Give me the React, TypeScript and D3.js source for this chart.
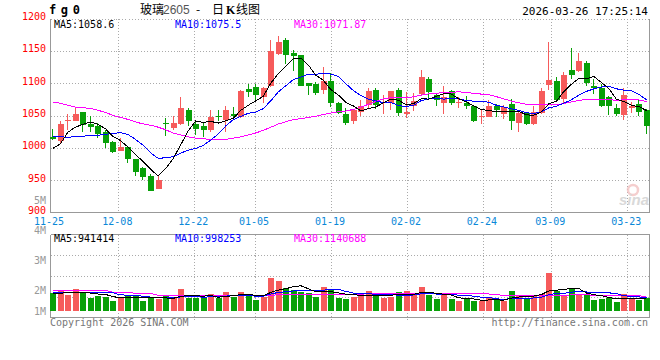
import { useRef, useEffect } from "react";
import * as d3 from "d3";

// daily bars, 2025-11-25 .. 2026-03-26 (80 trading days)
const opens = [1017, 1010, 1042, 1042, 1055, 1037, 1034, 1025, 1009, 995, 1001, 982, 969, 957, 937, 1039, 1031, 1037, 1059, 1037, 1033, 1028, 1049, 1043, 1052, 1047, 1091, 1094, 1079, 1095, 1145, 1166, 1146, 1143, 1100, 1098, 1089, 1103, 1070, 1053, 1041, 1056, 1066, 1090, 1069, 1070, 1090, 1053, 1064, 1084, 1107, 1082, 1070, 1088, 1070, 1070, 1065, 1048, 1048, 1065, 1053, 1068, 1038, 1054, 1037, 1054, 1097, 1103, 1076, 1120, 1119, 1131, 1095, 1092, 1079, 1061, 1051, 1061, 1068, 1059];
const highs = [1029, 1042, 1052, 1063, 1056, 1049, 1038, 1027, 1010, 1015, 1003, 983, 970, 959, 956, 1046, 1049, 1079, 1061, 1043, 1040, 1059, 1059, 1065, 1063, 1090, 1098, 1098, 1094, 1166, 1173, 1170, 1152, 1144, 1100, 1102, 1125, 1115, 1071, 1061, 1060, 1074, 1092, 1092, 1082, 1088, 1092, 1087, 1085, 1120, 1109, 1083, 1095, 1090, 1079, 1080, 1066, 1060, 1074, 1068, 1066, 1075, 1056, 1056, 1064, 1093, 1163, 1110, 1117, 1155, 1146, 1134, 1106, 1099, 1080, 1068, 1093, 1071, 1074, 1060];
const lows = [1012, 1006, 1028, 1041, 1025, 1024, 1015, 1000, 992, 995, 977, 956, 950, 933, 936, 1018, 1028, 1035, 1033, 1020, 1017, 1025, 1041, 1025, 1046, 1046, 1079, 1074, 1069, 1094, 1143, 1129, 1119, 1096, 1081, 1081, 1083, 1063, 1053, 1035, 1037, 1049, 1060, 1060, 1053, 1059, 1049, 1046, 1057, 1082, 1077, 1064, 1053, 1066, 1061, 1060, 1040, 1037, 1047, 1047, 1044, 1027, 1025, 1036, 1036, 1052, 1089, 1071, 1070, 1107, 1117, 1095, 1083, 1063, 1051, 1049, 1043, 1054, 1049, 1022];
const closes = [1014, 1037, 1043, 1052, 1035, 1032, 1021, 1008, 993, 1002, 983, 962, 955, 933, 950, 1038, 1039, 1061, 1041, 1029, 1027, 1047, 1047, 1058, 1049, 1088, 1087, 1081, 1093, 1150, 1163, 1143, 1142, 1096, 1096, 1085, 1103, 1070, 1054, 1038, 1059, 1065, 1088, 1066, 1071, 1088, 1054, 1056, 1072, 1109, 1086, 1074, 1078, 1070, 1071, 1064, 1041, 1049, 1065, 1059, 1063, 1042, 1054, 1037, 1056, 1088, 1105, 1074, 1112, 1112, 1135, 1100, 1093, 1065, 1065, 1052, 1082, 1064, 1056, 1034];
const volumes = [1338000, 1515000, 1212000, 1667000, 1389000, 1010000, 1162000, 1086000, 758000, 1086000, 1136000, 1212000, 758000, 960000, 884000, 1136000, 1010000, 1667000, 1010000, 960000, 960000, 1288000, 960000, 1439000, 1086000, 1439000, 1212000, 833000, 1086000, 2500000, 2273000, 1742000, 1591000, 1465000, 1364000, 1086000, 1818000, 1591000, 985000, 909000, 1061000, 1212000, 1515000, 1162000, 1010000, 1086000, 1439000, 1515000, 1212000, 1818000, 1212000, 909000, 1212000, 909000, 758000, 909000, 758000, 758000, 985000, 833000, 758000, 1515000, 1212000, 1010000, 1162000, 1313000, 2904000, 1515000, 1212000, 1667000, 1212000, 1212000, 833000, 909000, 985000, 707000, 1313000, 1010000, 833000, 960000];

// averages before enough days are on screen
const priceMa5Head = [999, 1006, 1024, 1032];
const priceMa10Head = [1017.5, 1017, 1016.5, 1017, 1018, 1019, 1019.5, 1021, 1022];
const priceMa30Head = [1071, 1069, 1066, 1063, 1062, 1061, 1058, 1055, 1050, 1047, 1044, 1040, 1037, 1035, 1032, 1028, 1023, 1020, 1017, 1015, 1014, 1013, 1013, 1013, 1015, 1017, 1020, 1023, 1027];
const volMa5Head = [1340000, 1360000, 1370000, 1390000];
const volMa10Head = [1410000, 1410000, 1410000, 1420000, 1420000, 1420000, 1410000, 1400000, 1380000];
const volMa30Head = [1560000, 1560000, 1560000, 1560000, 1560000, 1560000, 1560000, 1560000, 1410000, 1410000, 1410000, 1340000, 1340000, 1340000, 1190000, 1190000, 1190000, 1190000, 1190000, 1160000, 1160000, 1160000, 1160000, 1160000, 1160000, 1160000, 1160000, 1160000, 1160000];

const tickLabels = ["11-25", "12-08", "12-22", "01-05", "01-19", "02-02", "02-24", "03-09", "03-23"];
const tickIndex = [0, 9, 19, 27, 37, 47, 57, 66, 76];
const priceTicks = [1200, 1150, 1100, 1050, 1000, 950, 900];
const volTicks = [5e6, 4e6, 3e6, 2e6, 1e6];
const volTickLabels = ["5M", "4M", "3M", "2M", "1M"];
const priceMaText = ["MA5:1058.6", "MA10:1075.5", "MA30:1071.87"];
const volMaText = ["MA5:941414", "MA10:998253", "MA30:1140688"];
const maColors = ["#000000", "#0000ff", "#ff00ff"];

const UP = "#f65b5b";
const DOWN = "#08a008";
const GRID = "#aaaaaa";
const FRAME = "#999999";
const MONO = "'DejaVu Sans Mono', monospace";

function movingAvg(values: number[], n: number, head: number[]) {
  return values.map((_, i) => (i < n - 1 ? head[i] : (d3.mean(values.slice(i - n + 1, i + 1)) as number)));
}

export default function App() {
  const svgRef = useRef<SVGSVGElement>(null);

  useEffect(() => {
    if (!svgRef.current) return;
    document.body.style.margin = "0";

    const svg = d3.select(svgRef.current);
    svg.selectAll("*").remove();

    const width = 660;
    const height = 360;
    const left = 50.5;
    const right = 649.5;
    const priceTop = 18.5;
    const priceBottom = 212.5;
    const volTop = 234.5;
    const volBottom = 317.5;

    svg.attr("width", width).attr("height", height);
    svg.append("rect").attr("width", width).attr("height", height).attr("fill", "#fff");

    const n = closes.length;
    const xCandle = d3.scaleLinear().domain([0, n - 1]).range([52.3, 646]);
    const xTick = d3.scaleLinear().domain([0, n - 1]).range([50, 650]);
    const yPrice = d3.scaleLinear().domain([900, 1200]).range([priceBottom, priceTop]);
    const yVol = d3.scaleLinear().domain([0, 1e6]).range([311, 297.8]);
    const yVolLabel = d3.scaleLinear().domain([0, 5e6]).range([350.7, 200.7]);

    const snap = (v: number) => Math.round(v) + 0.5;

    // grid
    const grid = svg.append("g").attr("stroke", GRID).attr("stroke-dasharray", "1,2").attr("shape-rendering", "crispEdges");
    priceTicks.slice(0, -1).forEach((p) => {
      grid.append("line").attr("x1", left).attr("x2", right).attr("y1", snap(yPrice(p))).attr("y2", snap(yPrice(p)));
    });
    [1, 2, 3].forEach((k) => {
      const y = snap(volTop + ((volBottom - volTop) * k) / 4);
      grid.append("line").attr("x1", left).attr("x2", right).attr("y1", y).attr("y2", y);
    });
    tickIndex.slice(1).forEach((idx) => {
      const x = snap(xTick(idx));
      grid.append("line").attr("x1", x).attr("x2", x).attr("y1", priceTop).attr("y2", priceBottom);
      grid.append("line").attr("x1", x).attr("x2", x).attr("y1", volTop).attr("y2", 321);
    });

    // frames
    const frame = svg.append("g").attr("stroke", FRAME).attr("shape-rendering", "crispEdges");
    frame.append("line").attr("x1", left).attr("x2", left).attr("y1", priceTop).attr("y2", priceBottom);
    frame.append("line").attr("x1", right).attr("x2", right).attr("y1", priceTop).attr("y2", priceBottom);
    frame.append("line").attr("x1", left).attr("x2", right).attr("y1", priceBottom).attr("y2", priceBottom).attr("stroke-width", 1.5);
    frame.append("line").attr("x1", left).attr("x2", left).attr("y1", volTop).attr("y2", volBottom);
    frame.append("line").attr("x1", right).attr("x2", right).attr("y1", volTop).attr("y2", volBottom);
    frame.append("line").attr("x1", left).attr("x2", right).attr("y1", volTop).attr("y2", volTop);
    frame.append("line").attr("x1", left).attr("x2", right).attr("y1", volBottom).attr("y2", volBottom).attr("stroke-width", 1.5);

    // sina watermark
    const logo = svg.append("g").attr("opacity", 0.8);
    logo.append("circle").attr("cx", 633).attr("cy", 190).attr("r", 5).attr("fill", "none").attr("stroke", "#f3c3c3").attr("stroke-width", 2.5);
    logo.append("text").attr("x", 619).attr("y", 205).attr("font-family", "'Liberation Sans', sans-serif")
      .attr("font-size", 15).attr("font-style", "italic").attr("font-weight", "bold").attr("fill", "#d0d0d0").text("sina");

    // candles
    const candles = svg.append("g").attr("shape-rendering", "crispEdges");
    closes.forEach((c, i) => {
      const o = opens[i];
      const color = c >= o ? UP : DOWN;
      const cx = Math.round(xCandle(i));
      candles.append("line").attr("x1", cx + 0.5).attr("x2", cx + 0.5)
        .attr("y1", yPrice(highs[i])).attr("y2", yPrice(lows[i])).attr("stroke", color);
      const yTop = yPrice(Math.max(o, c));
      const yBot = yPrice(Math.min(o, c));
      candles.append("rect").attr("x", cx - 2.5).attr("width", 6)
        .attr("y", yTop).attr("height", Math.max(1, yBot - yTop)).attr("fill", color);
    });

    // price MAs
    const priceMas = [movingAvg(closes, 5, priceMa5Head), movingAvg(closes, 10, priceMa10Head), movingAvg(closes, 30, priceMa30Head)];
    const priceLine = d3.line<number>().x((_, i) => xCandle(i) + 0.5).y((v) => yPrice(v));
    priceMas.slice().reverse().forEach((ma, k) => {
      svg.append("path").attr("d", priceLine(ma)).attr("fill", "none")
        .attr("stroke", maColors[2 - k]).attr("stroke-width", 1).attr("shape-rendering", "crispEdges");
    });

    // volume bars
    const bars = svg.append("g").attr("shape-rendering", "crispEdges");
    volumes.forEach((v, i) => {
      const cx = Math.round(xCandle(i));
      bars.append("rect").attr("x", cx - 2.5).attr("width", 6)
        .attr("y", yVol(v)).attr("height", yVol(0) - yVol(v))
        .attr("fill", closes[i] >= opens[i] ? UP : DOWN);
    });

    const volMas = [movingAvg(volumes, 5, volMa5Head), movingAvg(volumes, 10, volMa10Head), movingAvg(volumes, 30, volMa30Head)];
    const volLine = d3.line<number>().x((_, i) => xCandle(i) + 0.5).y((v) => yVol(v));
    volMas.slice().reverse().forEach((ma, k) => {
      svg.append("path").attr("d", volLine(ma)).attr("fill", "none")
        .attr("stroke", maColors[2 - k]).attr("stroke-width", 1).attr("shape-rendering", "crispEdges");
    });

    // axis labels
    const txt = svg.append("g").attr("font-family", MONO).attr("font-size", 10);
    priceTicks.forEach((p) => {
      txt.append("text").attr("x", 46).attr("y", yPrice(p) + 1.6).attr("text-anchor", "end").attr("fill", "#ff0000").text(String(p));
    });
    volTicks.forEach((v, k) => {
      txt.append("text").attr("x", 46).attr("y", Math.min(yVolLabel(v), 311) + 3.6)
        .attr("text-anchor", "end").attr("fill", "#999").text(volTickLabels[k]);
    });
    tickIndex.forEach((idx, k) => {
      txt.append("text").attr("x", xTick(idx) - 1).attr("y", 225).attr("text-anchor", "middle").attr("fill", "#0a88d8").text(tickLabels[k]);
    });

    // MA legends
    const legendX = [54, 175, 294];
    priceMaText.forEach((t, k) => {
      txt.append("text").attr("x", legendX[k]).attr("y", 27.5).attr("fill", maColors[k]).text(t);
    });
    volMaText.forEach((t, k) => {
      txt.append("text").attr("x", legendX[k]).attr("y", 241.8).attr("fill", maColors[k]).text(t);
    });

    // header
    svg.append("text").attr("x", 49).attr("y", 14).attr("font-family", MONO).attr("font-weight", "bold")
      .attr("font-size", 12).attr("letter-spacing", 4.6).attr("fill", "#000").text("fg0");
    const title = svg.append("text").attr("y", 14).attr("font-family", "'Noto Sans CJK SC', sans-serif").attr("font-size", 12).attr("fill", "#000");
    title.append("tspan").attr("x", 140).text("玻璃");
    title.append("tspan").attr("x", 163).attr("font-family", "'Liberation Sans', sans-serif").attr("fill", "#555").text("2605");
    title.append("tspan").attr("x", 196).text("-");
    title.append("tspan").attr("x", 212).text("日");
    title.append("tspan").attr("x", 226).attr("font-weight", "bold").attr("font-family", "'Liberation Serif', serif").text("K");
    title.append("tspan").attr("x", 236).text("线图");
    svg.append("text").attr("x", 648).attr("y", 15).attr("text-anchor", "end").attr("font-family", MONO)
      .attr("font-size", 11).attr("fill", "#000").text("2026-03-26 17:25:14");

    // footer
    svg.append("text").attr("x", 50).attr("y", 326).attr("font-family", MONO).attr("font-size", 10)
      .attr("fill", "#777").text("Copyright 2026 SINA.COM");
    svg.append("text").attr("x", 648).attr("y", 326).attr("text-anchor", "end").attr("font-family", MONO)
      .attr("font-size", 10).attr("fill", "#777").text("http://finance.sina.com.cn");
  }, []);

  return <svg ref={svgRef} style={{ display: "block" }} />;
}
